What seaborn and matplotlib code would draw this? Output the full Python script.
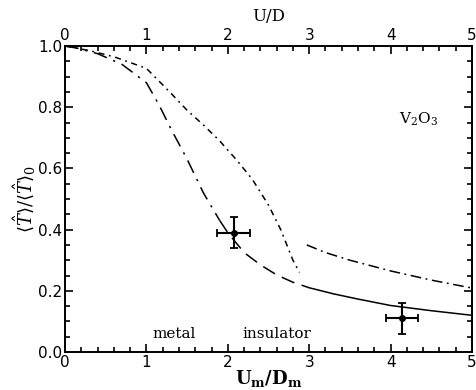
"""Recreate the V2O3 hopping ratio vs U/D chart."""

import matplotlib
matplotlib.use("Agg")
import matplotlib.pyplot as plt
from matplotlib.ticker import MultipleLocator
import pandas as pd
import seaborn as sns

# metal branch, dash-dot (steep)
metal_dd_x = [0.0, 0.15, 0.4, 0.7, 1.0, 1.15, 1.3, 1.5, 1.7, 1.9]
metal_dd_y = [1.0, 0.993, 0.975, 0.94, 0.88, 0.81, 0.73, 0.63, 0.52, 0.43]

# metal branch, long dashes
metal_ld_x = [1.9, 2.0, 2.2, 2.4, 2.6, 2.8, 3.0]
metal_ld_y = [0.43, 0.39, 0.325, 0.285, 0.252, 0.228, 0.21]

# solid continuation
solid_x = [3.0, 3.3, 3.6, 4.0, 4.5, 5.0]
solid_y = [0.21, 0.19, 0.173, 0.152, 0.135, 0.12]

# outer dash-dot curve
outer_x = [0.0, 0.3, 0.6, 1.0, 1.3, 1.5, 1.7, 1.9, 2.1, 2.3, 2.5, 2.65, 2.8, 2.88]
outer_y = [1.0, 0.985, 0.965, 0.927, 0.846, 0.79, 0.742, 0.69, 0.63, 0.565, 0.48, 0.40, 0.30, 0.26]

# insulator branch dash-dot
ins_x = [2.97, 3.2, 3.5, 4.0, 4.5, 5.0]
ins_y = [0.35, 0.325, 0.30, 0.265, 0.235, 0.209]

# experimental points
exp_x = [2.07, 4.14]
exp_y = [0.39, 0.11]
exp_xerr = [0.2, 0.2]
exp_yerr = [0.05, 0.05]

branches = {
    "metal_dd": (metal_dd_x, metal_dd_y),
    "metal_ld": (metal_ld_x, metal_ld_y),
    "solid": (solid_x, solid_y),
    "outer": (outer_x, outer_y),
    "ins": (ins_x, ins_y),
}
df = pd.concat(
    [pd.DataFrame({"x": bx, "y": by, "branch": name}) for name, (bx, by) in branches.items()],
    ignore_index=True,
)
dash_map = {
    "metal_dd": (9, 4.5, 1.5, 4.5),
    "metal_ld": (9, 5),
    "solid": "",
    "outer": (4, 3, 1.2, 3),
    "ins": (7, 3, 1.2, 3),
}

sns.set_style("ticks")
plt.rcParams["font.family"] = ["DejaVu Sans"]
plt.rcParams["mathtext.fontset"] = "dejavuserif"
plt.rcParams["text.color"] = "black"
plt.rcParams["axes.labelcolor"] = "black"
plt.rcParams["xtick.color"] = "black"
plt.rcParams["ytick.color"] = "black"
plt.rcParams["axes.edgecolor"] = "black"

fig = plt.figure(figsize=(4.76, 3.9), dpi=100)
ax = fig.add_axes([0.1366, 0.0974, 0.855, 0.7846])

sns.lineplot(data=df, x="x", y="y", style="branch", units="branch", estimator=None,
             dashes=dash_map, sort=False, color="black", linewidth=1.1,
             legend=False, ax=ax)

ax.errorbar(exp_x, exp_y, xerr=exp_xerr, yerr=exp_yerr, fmt="o", color="black",
            markersize=4, elinewidth=1.5, capsize=3, capthick=1.3)

ax.set_xlim(0, 5)
ax.set_ylim(0, 1)
ax.xaxis.set_major_locator(MultipleLocator(1))
ax.xaxis.set_minor_locator(MultipleLocator(0.2))
ax.yaxis.set_minor_locator(MultipleLocator(0.05))
ax.set_yticks([0, 0.2, 0.4, 0.6, 0.8, 1.0])
ax.set_yticklabels(["0.0", "0.2", "0.4", "0.6", "0.8", "1.0"])
ax.tick_params(which="both", direction="in", top=True, right=True,
               labeltop=True, width=1.2, labelsize=11, pad=2)
ax.tick_params(which="major", length=6)
ax.tick_params(which="minor", length=3.5)
for s in ax.spines.values():
    s.set_linewidth(1.4)

ax.set_xlabel(r"$\mathbf{U_m/D_m}$", fontsize=13, labelpad=-1)
ax.set_ylabel(r"$\langle\hat{T}\rangle/\langle\hat{T}\rangle_0$", fontsize=13, labelpad=0)
top = ax.secondary_xaxis("top")
top.set_xticks([])
top.set_xlabel("U/D", family="DejaVu Serif", fontsize=12, labelpad=18)
top.spines["top"].set_visible(False)

ax.text(4.1, 0.745, r"$\mathrm{V_2O_3}$", fontsize=11)
ax.text(1.08, 0.045, "metal", family="DejaVu Serif", fontsize=11)
ax.text(2.18, 0.045, "insulator", family="DejaVu Serif", fontsize=11)

fig.savefig("out.png", dpi=100)
